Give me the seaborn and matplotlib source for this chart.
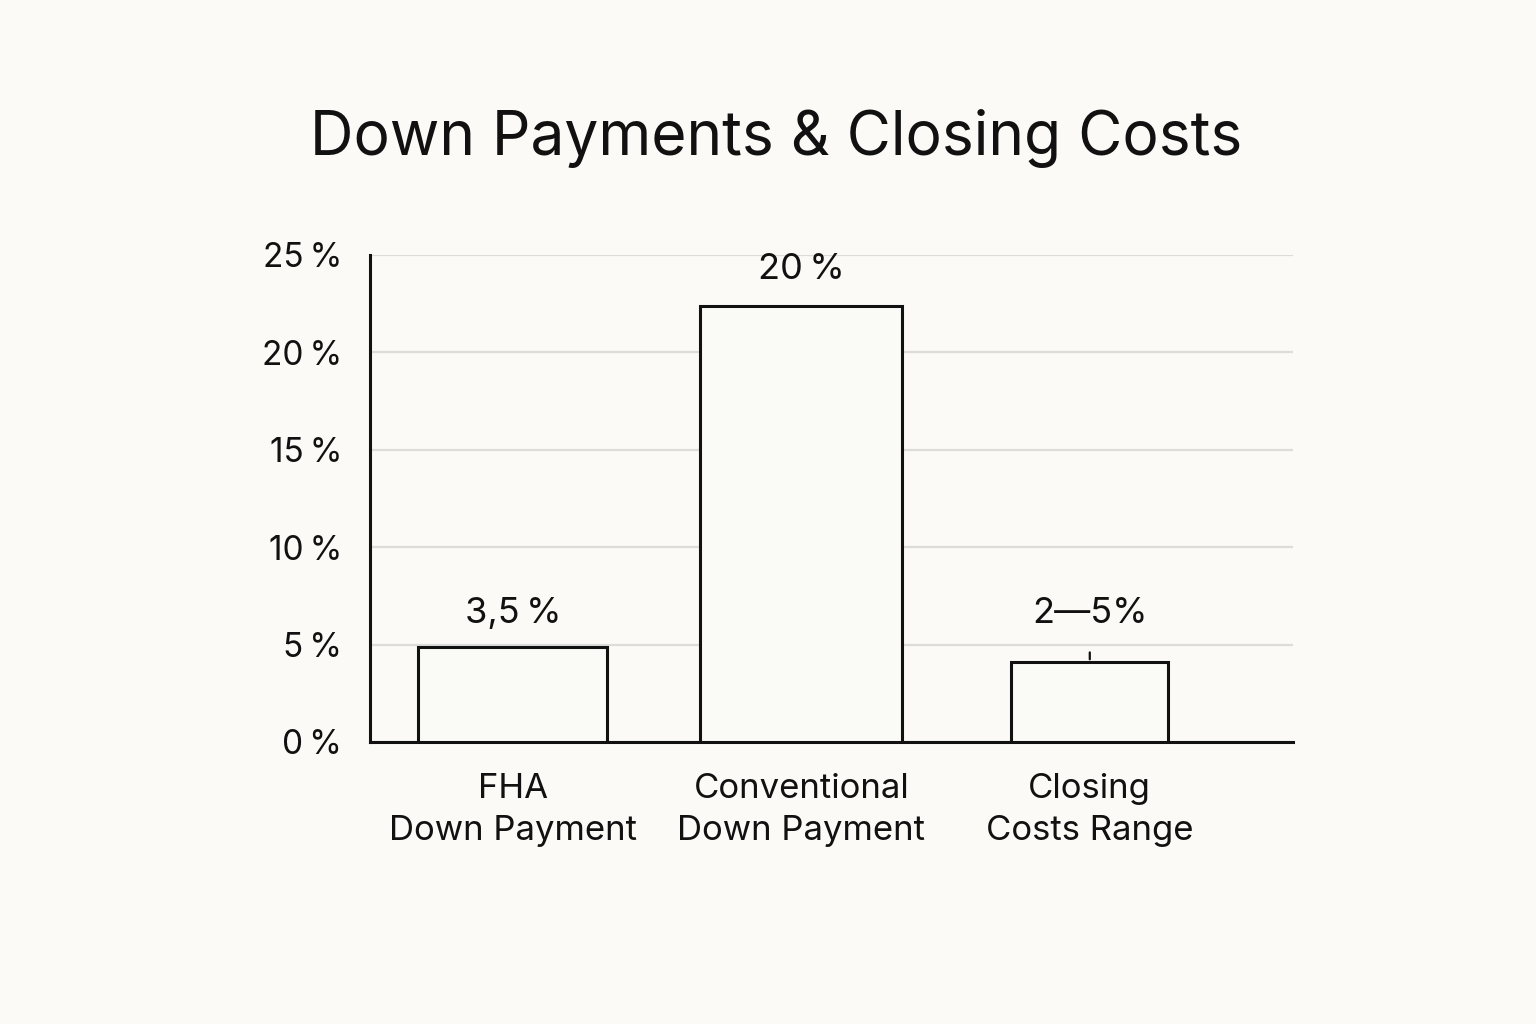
import matplotlib
matplotlib.use("Agg")
import matplotlib.pyplot as plt
import seaborn as sns
import pandas as pd

# Data (bar heights as drawn, labels as printed)
categories = ["FHA\nDown Payment", "Conventional\nDown Payment", "Closing\nCosts Range"]
heights = [4.9, 22.4, 4.1]
value_labels = ["3,5\u2009%", "20\u2009%", "2\u20145%"]
yticks = [0, 5, 10, 15, 20, 25]
ytick_labels = ["0\u2009%", "5\u2009%", "10\u2009%", "15\u2009%", "20\u2009%", "25\u2009%"]

bg = "#fbfaf6"
bar_widths = [0.655, 0.70, 0.545]
label_offsets = [24, 26, 35]  # points above each bar

sns.set_style("white")
plt.rcParams["font.family"] = ["Inter", "DejaVu Sans"]

df = pd.DataFrame({"cat": categories, "val": heights})

fig = plt.figure(figsize=(15.36, 10.24), dpi=100, facecolor=bg)
ax = fig.add_axes([0.2409, 0.2754, 0.601, 0.4756])
ax.set_facecolor(bg)

sns.barplot(data=df, x="cat", y="val", ax=ax, color=bg, edgecolor="#111111",
            linewidth=2.2, width=0.7)

# hand-drawn look: each bar a slightly different width
for p, w in zip(ax.patches, bar_widths):
    c = p.get_x() + p.get_width() / 2
    p.set_width(w)
    p.set_x(c - w / 2)
    p.set_zorder(3)

for p, lab, off in zip(ax.patches, value_labels, label_offsets):
    cx = p.get_x() + p.get_width() / 2
    ax.annotate(lab, (cx, p.get_height()), xytext=(0, off), textcoords="offset points",
                ha="center", va="center", fontsize=26, color="#111111")

# small range tick above the closing-costs bar
last = ax.patches[-1]
cx = last.get_x() + last.get_width() / 2
ax.annotate("", (cx, last.get_height()), xytext=(0, 9), textcoords="offset points",
            arrowprops=dict(arrowstyle="-", color="#111111", lw=1.6))

ax.set_ylim(0, 25)
ax.set_xlim(-0.495, 2.705)
ax.set_yticks(yticks)
ax.set_yticklabels(ytick_labels)
ax.yaxis.grid(True, color="#dcdcd8", linewidth=1.6)
ax.set_axisbelow(True)
ax.tick_params(axis="y", length=0, pad=20, labelsize=24, labelcolor="#111111")
ax.tick_params(axis="x", length=0, pad=22, labelsize=25, labelcolor="#111111")
for t in ax.get_xticklabels():
    t.set_linespacing(1.4)
ax.set_xlabel("")
ax.set_ylabel("")

sns.despine(ax=ax, top=True, right=True)
for s in ["left", "bottom"]:
    ax.spines[s].set_color("#111111")
    ax.spines[s].set_linewidth(2.2)

fig.text(0.505, 0.865, "Down Payments & Closing Costs", ha="center", va="center",
         fontsize=43.5, color="#111111")

fig.savefig("out.png", dpi=100, facecolor=bg)
